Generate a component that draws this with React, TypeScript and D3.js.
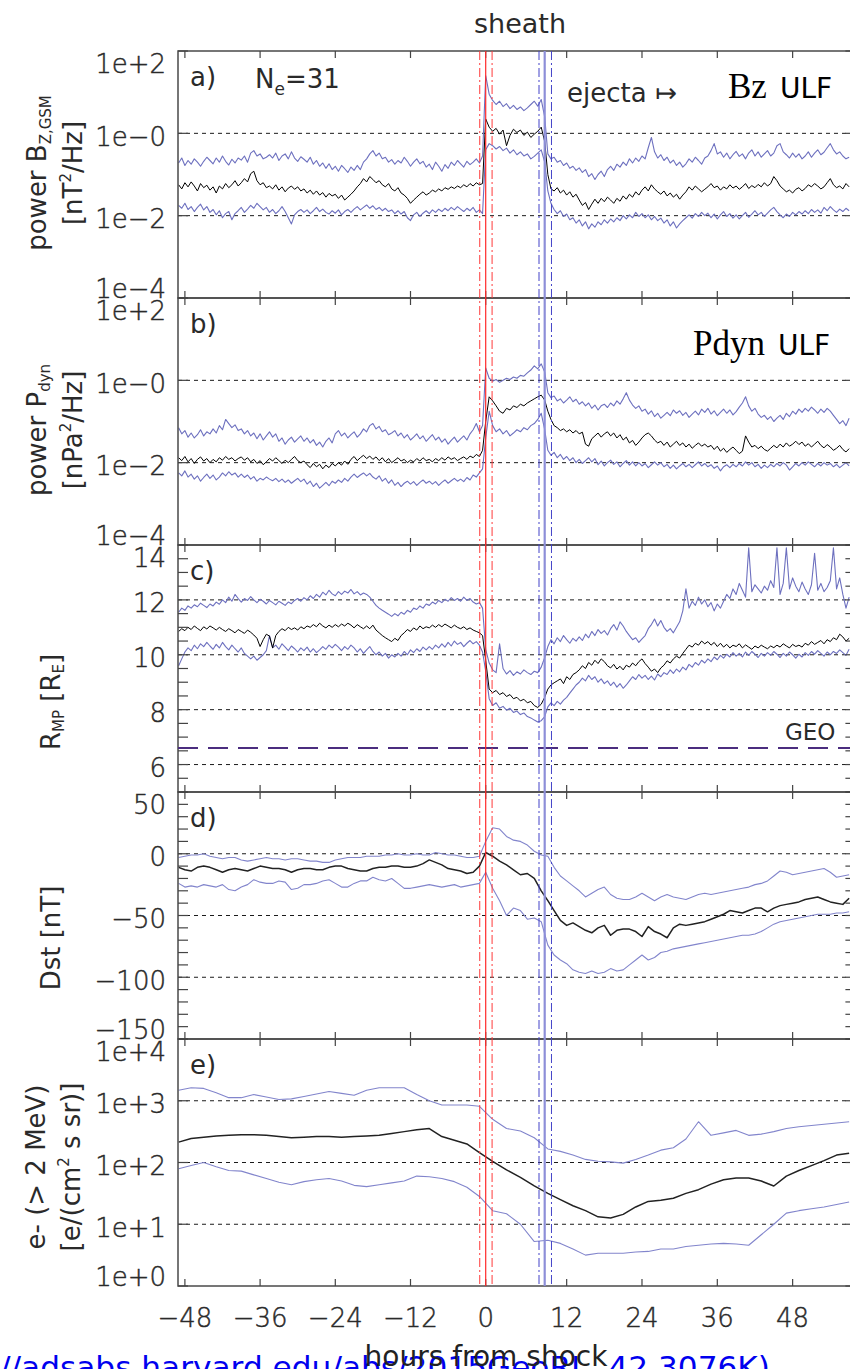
import React from "react";
import * as d3 from "d3";

// ---------- sampling grids (hours from shock; sheath normalised 0..8.5) ----------
const TIME_HALF_HOUR = d3.range(-49, 57.001, 0.5); // panels a, b, c
const TIME_HOUR = d3.range(-49, 57.001, 1); // panel d
const TIME_TWO_HOUR = d3.range(-49, 57.001, 2); // panel e

const X_TICKS = [-48, -36, -24, -12, 0, 12, 24, 36, 48];
const EVENT_TIMES = [-0.95, 0, 0.92, 7.68, 8.5, 9.58];

// ---------- a) Bz ULF power, log10 [nT^2/Hz] ----------
const bzUpperLog = [
  -0.72,-0.60,-0.78,-0.66,-0.75,-0.62,-0.70,-0.80,-0.68,-0.58,
  -0.66,-0.74,-0.60,-0.70,-0.55,-0.68,-0.77,-0.63,-0.72,-0.60,
  -0.65,-0.55,-0.70,-0.48,-0.42,-0.55,-0.50,-0.62,-0.58,-0.52,
  -0.60,-0.48,-0.66,-0.55,-0.50,-0.62,-0.45,-0.60,-0.68,-0.57,
  -0.63,-0.70,-0.58,-0.75,-0.66,-0.80,-0.72,-0.85,-0.74,-0.88,
  -0.80,-0.92,-0.78,-0.86,-0.95,-0.82,-0.90,-0.78,-0.88,-0.70,
  -0.62,-0.50,-0.42,-0.55,-0.48,-0.62,-0.58,-0.70,-0.64,-0.75,
  -0.66,-0.72,-0.58,-0.68,-0.80,-0.70,-0.62,-0.74,-0.68,-0.82,
  -0.75,-0.88,-0.70,-0.80,-0.92,-0.76,-0.85,-0.70,-0.78,-0.66,
  -0.74,-0.82,-0.68,-0.76,-0.70,-0.62,-0.72,-0.55,
  1.40,
  0.95,0.80,0.70,0.78,0.65,0.72,0.60,0.68,0.58,0.64,0.55,0.62,0.70,0.78,0.66,0.82,0.40,
  -0.50,-0.62,-0.58,-0.70,-0.66,-0.78,-0.72,-0.85,-0.80,-0.90,
  -0.84,-0.95,-0.88,-1.05,-0.98,-1.12,-1.00,-0.92,-1.05,-0.88,
  -0.80,-0.90,-0.75,-0.82,-0.70,-0.78,-0.62,-0.72,-0.60,-0.68,
  -0.55,-0.62,-0.35,-0.10,-0.45,-0.60,-0.52,-0.66,-0.58,-0.72,
  -0.65,-0.78,-0.70,-0.82,-0.74,-0.62,-0.70,-0.58,-0.66,-0.75,
  -0.60,-0.55,-0.42,-0.25,-0.50,-0.45,-0.58,-0.48,-0.62,-0.52,
  -0.44,-0.56,-0.50,-0.62,-0.48,-0.40,-0.55,-0.45,-0.58,-0.50,
  -0.42,-0.55,-0.48,-0.30,-0.25,-0.45,-0.52,-0.60,-0.48,-0.58,
  -0.50,-0.62,-0.55,-0.45,-0.58,-0.48,-0.40,-0.52,-0.46,-0.35,
  -0.25,-0.40,-0.50,-0.45,-0.55,-0.62,-0.58,
];
const bzMedianLog = [
  -1.25,-1.35,-1.20,-1.30,-1.18,-1.28,-1.40,-1.22,-1.32,-1.26,
  -1.38,-1.30,-1.45,-1.28,-1.35,-1.22,-1.32,-1.25,-1.15,-1.28,
  -1.20,-1.10,-1.18,-0.98,-0.92,-1.15,-1.25,-1.20,-1.32,-1.28,
  -1.35,-1.25,-1.38,-1.30,-1.42,-1.33,-1.28,-1.36,-1.30,-1.40,
  -1.35,-1.45,-1.38,-1.48,-1.40,-1.50,-1.44,-1.55,-1.46,-1.52,
  -1.48,-1.58,-1.50,-1.62,-1.55,-1.48,-1.40,-1.30,-1.22,-1.10,
  -1.18,-1.05,-1.12,-1.20,-1.15,-1.25,-1.30,-1.22,-1.35,-1.40,
  -1.32,-1.45,-1.50,-1.58,-1.70,-1.62,-1.55,-1.48,-1.42,-1.50,
  -1.45,-1.38,-1.42,-1.35,-1.40,-1.32,-1.36,-1.30,-1.34,-1.28,
  -1.32,-1.25,-1.30,-1.22,-1.28,-1.20,-1.25,-1.22,
  0.35,
  0.15,0.05,0.12,-0.02,0.08,-0.30,-0.05,0.10,0.02,0.08,-0.05,0.03,-0.10,-0.02,0.05,0.15,-0.20,
  -1.00,-1.35,-1.40,-1.32,-1.45,-1.38,-1.50,-1.42,-1.55,-1.48,
  -1.62,-1.75,-1.68,-1.85,-1.72,-1.60,-1.70,-1.58,-1.66,-1.55,
  -1.62,-1.70,-1.58,-1.65,-1.52,-1.60,-1.48,-1.55,-1.42,-1.50,
  -1.38,-1.30,-1.40,-1.25,-1.35,-1.42,-1.48,-1.40,-1.52,-1.45,
  -1.55,-1.48,-1.60,-1.50,-1.42,-1.30,-1.38,-1.28,-1.35,-1.42,
  -1.36,-1.30,-1.22,-1.32,-1.28,-1.38,-1.30,-1.35,-1.25,-1.33,
  -1.28,-1.36,-1.30,-1.22,-1.34,-1.27,-1.32,-1.24,-1.30,-1.20,
  -1.28,-1.22,-1.05,-1.15,-1.28,-1.35,-1.42,-1.38,-1.45,-1.36,
  -1.32,-1.40,-1.34,-1.25,-1.30,-1.22,-1.28,-1.35,-1.30,-1.20,
  -1.10,-1.25,-1.32,-1.28,-1.35,-1.22,-1.30,
];
const bzLowerLog = [
  -1.75,-1.82,-1.70,-1.85,-1.78,-1.90,-1.80,-1.72,-1.86,-1.78,
  -1.92,-1.85,-1.98,-1.88,-2.05,-1.95,-1.90,-2.10,-1.95,-1.88,
  -1.80,-1.92,-1.84,-1.75,-1.82,-1.70,-1.78,-1.86,-1.80,-1.92,
  -1.85,-1.95,-1.88,-1.78,-1.90,-2.05,-2.20,-1.98,-1.90,-1.85,
  -1.92,-1.86,-1.95,-1.88,-1.80,-1.90,-1.84,-1.92,-1.96,-1.88,
  -1.94,-1.86,-1.98,-1.90,-1.85,-1.92,-1.84,-1.78,-1.86,-1.80,
  -1.74,-1.82,-1.76,-1.85,-1.80,-1.88,-1.82,-1.90,-1.86,-1.95,
  -1.88,-1.96,-1.90,-2.05,-2.12,-1.98,-1.92,-2.02,-1.94,-1.88,
  -1.95,-1.86,-1.92,-1.84,-1.90,-1.82,-1.88,-1.80,-1.86,-1.78,
  -1.84,-1.90,-1.82,-1.88,-1.80,-1.92,-1.86,-1.95,
  -0.40,
  -0.25,-0.30,-0.38,-0.32,-0.42,-0.36,-0.48,-0.40,-0.52,-0.45,-0.55,-0.50,-0.62,-0.56,-0.48,-0.40,-0.70,
  -1.40,-1.70,-1.85,-1.95,-1.88,-2.02,-1.96,-2.10,-2.05,-2.18,
  -2.10,-2.25,-2.15,-2.32,-2.20,-2.28,-2.15,-2.22,-2.10,-2.18,
  -2.08,-2.15,-2.05,-2.12,-2.00,-2.08,-1.98,-2.05,-1.92,-2.02,
  -1.95,-2.05,-1.98,-2.10,-2.02,-2.12,-2.06,-2.18,-2.10,-2.25,
  -2.15,-2.30,-2.20,-2.12,-2.05,-1.98,-2.06,-1.95,-2.02,-1.92,
  -2.00,-1.94,-2.05,-1.96,-2.08,-1.98,-1.90,-2.02,-1.95,-2.06,
  -1.98,-2.08,-2.00,-1.92,-2.04,-1.96,-1.88,-1.98,-1.92,-2.02,
  -1.94,-1.86,-1.80,-1.90,-1.98,-2.05,-1.96,-2.02,-1.92,-1.98,
  -1.90,-1.96,-1.88,-1.95,-1.85,-1.92,-1.86,-1.94,-1.80,-1.88,
  -1.78,-1.86,-1.92,-1.84,-1.90,-1.82,-1.88,
];

// ---------- b) Pdyn ULF power, log10 [nPa^2/Hz] ----------
const pdynUpperLog = [
  -1.15,-1.30,-1.22,-1.38,-1.28,-1.40,-1.32,-1.20,-1.35,-1.25,
  -1.30,-1.18,-1.28,-1.10,-1.20,-0.95,-1.05,-1.15,-1.08,-1.22,
  -1.18,-1.30,-1.22,-1.35,-1.28,-1.42,-1.30,-1.45,-1.35,-1.25,
  -1.38,-1.30,-1.48,-1.40,-1.55,-1.45,-1.38,-1.50,-1.42,-1.35,
  -1.48,-1.40,-1.52,-1.44,-1.58,-1.50,-1.62,-1.48,-1.40,-1.52,
  -1.30,-1.22,-1.35,-1.28,-1.40,-1.32,-1.25,-1.38,-1.30,-1.18,
  -1.25,-1.10,-1.05,-1.18,-1.12,-1.25,-1.20,-1.32,-1.28,-1.22,
  -1.35,-1.28,-1.40,-1.32,-1.45,-1.38,-1.30,-1.42,-1.35,-1.48,
  -1.40,-1.32,-1.45,-1.38,-1.50,-1.42,-1.55,-1.46,-1.38,-1.50,
  -1.42,-1.35,-1.45,-1.30,-1.20,-1.05,-1.25,-1.10,
  0.30,
  0.05,-0.02,0.02,-0.05,0.00,0.05,0.02,0.08,0.05,0.12,0.10,0.18,0.25,0.35,0.28,0.40,0.20,
  -0.30,-0.42,-0.38,-0.50,-0.45,-0.55,-0.48,-0.40,-0.52,-0.46,
  -0.58,-0.52,-0.62,-0.55,-0.68,-0.60,-0.72,-0.62,-0.58,-0.66,
  -0.55,-0.62,-0.50,-0.58,-0.45,-0.30,-0.48,-0.60,-0.68,-0.62,
  -0.75,-0.70,-0.82,-0.74,-0.88,-0.80,-0.92,-0.85,-0.78,-0.86,
  -0.72,-0.80,-0.74,-0.85,-0.78,-0.90,-0.82,-0.75,-0.84,-0.70,
  -0.78,-0.68,-0.82,-0.74,-0.86,-0.78,-0.70,-0.80,-0.72,-0.84,
  -0.76,-0.65,-0.55,-0.40,-0.62,-0.75,-0.68,-0.82,-0.90,-0.85,
  -0.95,-0.88,-1.00,-0.92,-0.85,-0.95,-0.80,-0.88,-0.75,-0.82,
  -0.70,-0.78,-0.68,-0.75,-0.65,-0.72,-0.80,-0.70,-0.78,-0.68,
  -0.75,-0.85,-0.95,-1.05,-0.98,-1.10,-0.92,
];
const pdynMedianLog = [
  -1.88,-1.95,-1.85,-1.98,-1.90,-2.02,-1.92,-1.86,-1.96,-1.90,
  -2.00,-1.92,-1.98,-1.88,-1.94,-1.85,-1.92,-1.88,-1.96,-1.90,
  -1.86,-1.94,-1.88,-1.98,-1.92,-2.02,-1.95,-2.05,-1.98,-1.90,
  -1.96,-1.88,-1.95,-2.02,-1.94,-2.00,-1.92,-1.85,-1.95,-2.00,
  -1.96,-2.05,-2.12,-2.02,-2.10,-2.04,-2.15,-2.06,-2.12,-2.02,
  -2.08,-2.00,-2.06,-1.96,-2.04,-1.92,-1.85,-1.95,-1.88,-1.82,
  -1.90,-1.84,-1.92,-1.86,-1.95,-1.88,-1.98,-1.90,-2.00,-1.94,
  -1.88,-1.96,-1.92,-2.00,-1.94,-1.98,-1.90,-1.96,-1.88,-1.95,
  -1.92,-1.98,-1.90,-1.95,-1.88,-1.94,-1.86,-1.92,-1.88,-1.95,
  -1.90,-1.86,-1.92,-1.84,-1.88,-1.80,-1.85,-1.70,
  -1.00,
  -0.40,-0.50,-0.62,-0.75,-0.80,-0.68,-0.72,-0.62,-0.66,-0.58,-0.62,-0.55,-0.50,-0.45,-0.40,-0.36,-0.48,
  -0.75,-0.95,-1.10,-1.15,-1.22,-1.18,-1.25,-1.20,-1.28,-1.22,
  -1.30,-1.26,-1.55,-1.60,-1.42,-1.35,-1.28,-1.38,-1.30,-1.25,
  -1.35,-1.28,-1.40,-1.32,-1.45,-1.38,-1.52,-1.46,-1.58,-1.50,
  -1.40,-1.32,-1.28,-1.35,-1.45,-1.52,-1.48,-1.58,-1.50,-1.62,
  -1.55,-1.48,-1.58,-1.52,-1.62,-1.55,-1.65,-1.58,-1.52,-1.60,
  -1.55,-1.62,-1.58,-1.68,-1.60,-1.72,-1.65,-1.75,-1.68,-1.62,
  -1.70,-1.78,-1.72,-1.35,-1.50,-1.62,-1.58,-1.66,-1.60,-1.68,
  -1.72,-1.65,-1.58,-1.64,-1.55,-1.62,-1.52,-1.60,-1.55,-1.48,
  -1.56,-1.50,-1.60,-1.54,-1.62,-1.55,-1.48,-1.58,-1.64,-1.56,
  -1.62,-1.70,-1.65,-1.58,-1.68,-1.74,-1.66,
];
const pdynLowerLog = [
  -2.25,-2.32,-2.20,-2.35,-2.28,-2.40,-2.32,-2.45,-2.36,-2.28,
  -2.38,-2.30,-2.42,-2.35,-2.25,-2.32,-2.22,-2.30,-2.25,-2.35,
  -2.28,-2.36,-2.30,-2.40,-2.34,-2.45,-2.38,-2.42,-2.35,-2.40,
  -2.44,-2.38,-2.46,-2.40,-2.48,-2.42,-2.50,-2.44,-2.38,-2.46,
  -2.40,-2.52,-2.45,-2.58,-2.50,-2.62,-2.55,-2.48,-2.56,-2.45,
  -2.50,-2.42,-2.48,-2.38,-2.45,-2.35,-2.28,-2.36,-2.30,-2.25,
  -2.32,-2.26,-2.35,-2.40,-2.32,-2.45,-2.38,-2.50,-2.42,-2.55,
  -2.48,-2.58,-2.50,-2.45,-2.52,-2.46,-2.55,-2.48,-2.42,-2.50,
  -2.45,-2.52,-2.46,-2.55,-2.48,-2.42,-2.50,-2.44,-2.38,-2.45,
  -2.40,-2.46,-2.36,-2.42,-2.30,-2.35,-2.25,-2.15,
  -1.40,
  -0.75,-1.10,-1.25,-1.18,-1.30,-1.22,-1.35,-1.28,-1.20,-1.25,-1.15,-1.20,-1.10,-1.05,-0.95,-0.80,-1.20,
  -1.70,-1.82,-1.75,-1.88,-1.80,-1.92,-1.85,-1.95,-1.88,-2.00,
  -1.92,-2.02,-1.95,-1.88,-1.98,-1.90,-2.05,-1.96,-2.08,-2.00,
  -1.94,-2.04,-1.98,-2.10,-2.02,-1.95,-2.06,-1.98,-2.08,-2.00,
  -2.08,-2.02,-2.12,-2.05,-1.98,-2.06,-2.00,-2.10,-2.04,-2.14,
  -2.06,-2.15,-2.08,-2.02,-2.10,-2.04,-2.12,-2.05,-1.98,-2.08,
  -2.02,-2.10,-2.05,-2.14,-2.08,-2.20,-2.10,-2.05,-2.12,-2.04,
  -2.10,-2.02,-2.08,-1.98,-2.06,-2.00,-2.10,-2.04,-2.14,-2.06,
  -2.12,-2.04,-2.10,-2.02,-2.08,-2.00,-2.06,-2.18,-2.10,-2.02,
  -2.08,-2.00,-2.06,-1.98,-2.04,-2.10,-2.02,-2.08,-2.00,-2.06,
  -2.02,-2.10,-2.04,-2.12,-2.06,-2.00,-2.08,
];

// ---------- c) magnetopause standoff distance [R_E] ----------
const rmpUpper = [
  11.55,11.70,11.62,11.78,11.70,11.82,11.75,11.88,11.80,11.72,
  11.85,11.78,11.92,11.84,12.00,11.90,12.10,11.95,12.20,12.05,
  11.92,12.05,11.98,12.12,12.00,11.90,12.02,11.95,11.85,11.98,
  11.90,11.82,11.95,11.88,11.80,11.92,11.86,11.98,12.05,11.95,
  12.08,12.00,12.15,12.05,12.20,12.10,12.28,12.18,12.35,12.22,
  12.15,12.30,12.20,12.32,12.25,12.38,12.22,12.30,12.18,12.25,
  12.20,12.10,11.95,11.80,11.70,11.62,11.55,11.48,11.40,11.50,
  11.42,11.55,11.48,11.62,11.55,11.70,11.65,11.78,11.70,11.85,
  11.80,11.92,11.85,11.98,11.90,12.02,11.95,12.08,11.98,12.05,
  11.95,12.10,11.98,12.05,11.92,11.85,11.90,11.70,
  10.20,
  9.70,9.45,9.35,10.40,9.50,9.30,9.42,9.25,9.38,9.30,9.45,9.35,9.28,9.40,9.35,9.55,9.90,
  10.30,10.55,10.40,10.62,10.48,10.70,10.55,10.42,10.60,10.50,
  10.65,10.52,10.75,10.62,10.85,10.70,10.92,10.78,10.88,10.72,
  10.95,11.10,10.90,11.20,11.05,10.85,10.70,10.55,10.62,10.45,
  10.58,10.70,10.95,11.10,11.30,11.05,11.25,11.00,10.85,10.95,
  10.80,11.00,11.20,11.60,12.40,11.70,11.95,11.80,12.10,11.85,
  12.00,11.75,11.90,11.60,11.85,11.70,11.95,12.20,12.05,12.40,
  12.20,12.60,12.35,12.10,13.90,12.30,12.55,12.40,12.25,12.50,
  12.35,12.70,12.45,13.90,12.20,12.60,13.90,12.40,12.80,12.50,
  12.30,12.65,12.40,12.20,12.55,13.70,12.35,12.60,12.30,12.45,
  12.70,13.90,12.40,12.80,12.20,11.70,12.10,
];
const rmpMedian = [
  10.85,10.95,10.88,11.00,10.92,11.05,10.96,10.88,11.02,10.94,
  11.05,10.98,10.90,11.00,10.92,10.85,10.95,10.88,10.80,10.92,
  10.85,10.78,10.90,10.82,10.72,10.60,10.30,10.55,10.75,10.68,
  10.25,10.70,10.85,10.95,10.88,11.00,10.92,10.98,10.90,11.02,
  10.95,11.05,11.00,11.10,11.02,11.15,11.05,10.98,11.08,11.00,
  11.10,11.02,11.12,11.05,11.15,11.08,10.98,11.10,11.02,10.95,
  11.05,10.95,11.08,10.90,10.80,10.70,10.62,10.55,10.48,10.60,
  10.52,10.70,10.80,10.92,10.85,10.98,10.90,11.05,10.95,11.02,
  10.98,11.08,11.00,11.10,11.02,11.12,11.05,10.98,11.08,11.00,
  10.95,11.02,10.92,10.98,10.90,10.85,10.80,10.70,
  9.80,
  8.75,8.62,8.70,8.55,8.62,8.48,8.55,8.40,8.45,8.32,8.38,8.25,8.30,8.15,8.08,8.20,8.45,
  8.75,8.90,8.98,9.05,9.12,8.95,9.20,9.10,9.28,9.35,
  9.45,9.60,9.50,9.72,9.62,9.80,9.68,9.85,9.75,9.60,
  9.52,9.65,9.48,9.58,9.45,9.62,9.55,9.70,9.60,9.75,
  9.85,9.68,9.55,9.40,9.48,9.35,9.52,9.62,9.78,9.70,
  9.85,9.95,9.88,10.05,10.20,10.35,10.28,10.42,10.35,10.50,
  10.40,10.48,10.35,10.45,10.30,10.42,10.28,10.38,10.25,10.35,
  10.30,10.40,10.25,10.36,10.28,10.20,10.32,10.25,10.35,10.28,
  10.22,10.32,10.26,10.35,10.28,10.40,10.32,10.25,10.38,10.30,
  10.35,10.28,10.42,10.35,10.48,10.38,10.45,10.52,10.40,10.55,
  10.48,10.62,10.55,10.75,10.65,10.50,10.60,
];
const rmpLower = [
  9.60,9.85,10.10,10.25,10.15,10.35,10.22,10.40,10.30,10.45,
  10.32,10.20,10.38,10.25,10.45,10.30,10.18,10.35,10.22,10.10,
  10.25,10.05,9.95,9.85,9.95,9.80,9.90,10.00,10.15,10.70,
  10.25,10.35,10.20,10.40,10.28,10.15,10.32,10.22,10.10,10.25,
  10.15,10.28,10.10,10.22,10.08,10.18,10.30,10.20,10.35,10.25,
  10.38,10.28,10.15,10.30,10.20,10.35,10.25,10.10,10.22,10.05,
  10.18,10.30,10.12,10.00,10.10,9.95,10.05,9.88,10.00,9.92,
  10.05,9.95,10.12,10.00,10.18,10.08,10.22,10.12,10.28,10.18,
  10.30,10.20,10.35,10.25,10.40,10.28,10.45,10.32,10.50,10.38,
  10.45,10.30,10.42,10.52,10.40,10.48,10.35,10.10,
  9.40,
  8.40,8.15,8.25,8.05,8.12,7.98,8.05,7.90,7.95,7.82,7.88,7.75,7.70,7.62,7.55,7.60,7.75,
  8.10,8.25,8.15,8.30,8.20,8.35,8.45,8.60,8.75,8.90,
  9.00,9.15,9.05,9.25,9.10,9.20,9.00,9.12,8.95,9.05,
  8.88,9.00,8.82,8.95,8.78,8.90,9.05,9.20,9.10,9.28,
  9.15,9.25,9.10,9.22,9.08,9.30,9.20,9.35,9.28,9.45,
  9.32,9.48,9.38,9.55,9.45,9.65,9.55,9.72,9.62,9.80,
  9.70,9.85,9.75,9.92,9.82,9.98,9.88,10.02,9.92,10.08,
  9.95,10.05,9.92,10.10,9.98,10.12,10.02,9.90,10.05,9.95,
  10.08,9.98,10.12,10.02,9.90,10.05,9.95,10.10,10.00,9.88,
  10.02,9.92,10.08,9.98,10.12,10.02,10.15,10.05,9.95,10.10,
  10.00,10.12,10.05,10.18,10.08,9.98,10.20,
];
const GEO_RE = 6.6;

// ---------- d) Dst [nT], hourly ----------
const dstUpper = [
  -3,-2,-1,-1,0,-2,-3,-4,-3,-3,
  -5,-6,-5,-4,-3,-4,-4,-5,-4,-4,
  -5,-6,-6,-7,-7,-5,-4,-3,-3,-3,
  -2,-2,-2,-1,-1,0,-1,-1,0,-1,
  -1,1,0,-1,-1,-2,-3,-3,-2,
  10,
  21,20,14,11,10,7,2,-1,
  -2,-11,-18,-22,-26,-30,-35,-32,-29,-27,
  -33,-36,-37,-37,-35,-32,-35,-38,-35,-33,
  -35,-36,-37,-35,-33,-32,-33,-32,-31,-30,
  -29,-28,-27,-25,-24,-22,-18,-14,-15,-17,
  -16,-15,-14,-13,-12,-15,-19,-18,-17,
];
const dstMedian = [
  -11,-13,-14,-11,-10,-11,-13,-15,-13,-12,
  -13,-14,-12,-10,-11,-12,-12,-13,-15,-13,
  -12,-12,-13,-13,-11,-10,-10,-12,-13,-14,
  -14,-12,-11,-11,-10,-10,-11,-11,-10,-8,
  -5,-7,-9,-12,-13,-14,-16,-15,-10,
  1,
  -2,-6,-9,-13,-17,-16,-20,-30,
  -38,-46,-54,-58,-56,-59,-62,-64,-60,-58,
  -66,-62,-61,-61,-63,-67,-59,-63,-65,-68,
  -60,-57,-58,-57,-56,-55,-53,-51,-49,-46,
  -47,-48,-46,-44,-44,-47,-44,-42,-41,-40,
  -39,-37,-36,-35,-37,-39,-40,-41,-36,
];
const dstLower = [
  -24,-27,-26,-27,-25,-26,-27,-25,-29,-30,
  -27,-25,-21,-23,-24,-24,-22,-23,-29,-28,
  -25,-25,-24,-22,-21,-24,-27,-27,-24,-22,
  -22,-19,-21,-22,-20,-24,-28,-28,-27,-26,
  -25,-26,-27,-26,-25,-27,-26,-25,-24,
  -15,
  -28,-38,-50,-44,-46,-53,-52,-55,
  -74,-82,-86,-89,-94,-96,-97,-95,-97,-96,
  -93,-95,-94,-90,-86,-82,-86,-84,-80,-79,
  -77,-76,-75,-74,-73,-72,-71,-70,-69,-68,
  -67,-66,-66,-65,-63,-60,-57,-55,-54,-53,
  -52,-51,-50,-49,-49,-49,-48,-48,-47,
];

// ---------- e) >2 MeV electron flux, log10 [e/(cm^2 s sr)], 2-hourly ----------
const fluxUpperLog = [
  3.17,3.21,3.20,3.13,3.05,3.05,3.10,3.06,3.02,3.03,
  3.07,3.11,3.15,3.12,3.09,3.17,3.21,3.21,3.21,3.10,
  3.00,2.93,2.93,2.93,2.91,2.70,2.55,2.51,2.40,2.22,
  2.18,2.12,2.05,2.02,2.01,1.99,2.05,2.12,2.20,2.24,
  2.38,2.66,2.44,2.48,2.52,2.44,2.46,2.50,2.55,2.58,
  2.60,2.62,2.64,2.66,
];
const fluxMedianLog = [
  2.33,2.39,2.41,2.43,2.44,2.45,2.45,2.44,2.42,2.40,
  2.41,2.42,2.42,2.41,2.42,2.43,2.44,2.47,2.50,2.53,
  2.55,2.42,2.36,2.30,2.16,2.02,1.88,1.76,1.62,1.50,
  1.40,1.30,1.22,1.12,1.10,1.16,1.28,1.37,1.39,1.42,
  1.50,1.56,1.65,1.72,1.75,1.75,1.70,1.62,1.78,1.87,
  1.95,2.03,2.12,2.15,
];
const fluxLowerLog = [
  1.90,1.95,2.00,1.93,1.87,1.86,1.80,1.74,1.68,1.64,
  1.69,1.72,1.74,1.70,1.63,1.61,1.64,1.67,1.70,1.78,
  1.77,1.74,1.69,1.60,1.45,1.22,1.17,1.00,0.72,0.74,
  0.69,0.60,0.50,0.53,0.53,0.53,0.55,0.56,0.60,0.60,
  0.64,0.66,0.68,0.69,0.68,0.66,0.83,1.00,1.18,1.22,
  1.25,1.28,1.32,1.36,
];

// ---------- layout ----------
const W = 850;
const H = 1369;
const LEFT = 178;
const RIGHT = 855.4;
const TOP = 51;
const PH = 247;
const FONT = "'DejaVu Sans', 'Liberation Sans', sans-serif";
const TXT = "#2a2a2a";
const BLUE = "#6d70bf";

const x = d3
  .scaleLinear()
  .domain([-49.1, 0, 8.5, 58])
  .range([LEFT, 485.7, 544.7, RIGHT]);

type Series = { t: number[]; v: number[]; log: boolean; color: string; w: number };
type Panel = {
  letter: string;
  y: any;
  labels: { v: number; s: string }[];
  grid: number[];
  minor: number[];
  series: Series[];
};

function topOf(i: number) {
  return TOP + i * PH;
}

function buildPanels(): Panel[] {
  const yA = d3.scaleLog().domain([1e-4, 1e2]).range([topOf(1), topOf(0)]);
  const yB = d3.scaleLog().domain([1e-4, 1e2]).range([topOf(2), topOf(1)]);
  const yC = d3.scaleLinear().domain([5, 14]).range([topOf(3), topOf(2)]);
  const yD = d3.scaleLinear().domain([-150, 50]).range([topOf(4), topOf(3)]);
  const yE = d3.scaleLog().domain([1, 1e4]).range([topOf(5), topOf(4)]);
  const powLabels = [
    { v: 1e2, s: "1e+2" },
    { v: 1, s: "1e\u22120" },
    { v: 1e-2, s: "1e\u22122" },
    { v: 1e-4, s: "1e\u22124" },
  ];
  return [
    {
      letter: "a)",
      y: yA,
      labels: powLabels,
      grid: [1, 1e-2],
      minor: [1e2, 1, 1e-2, 1e-4],
      series: [
        { t: TIME_HALF_HOUR, v: bzUpperLog, log: true, color: BLUE, w: 1.1 },
        { t: TIME_HALF_HOUR, v: bzLowerLog, log: true, color: BLUE, w: 1.1 },
        { t: TIME_HALF_HOUR, v: bzMedianLog, log: true, color: "#000", w: 1 },
      ],
    },
    {
      letter: "b)",
      y: yB,
      labels: powLabels,
      grid: [1, 1e-2],
      minor: [1e2, 1, 1e-2, 1e-4],
      series: [
        { t: TIME_HALF_HOUR, v: pdynUpperLog, log: true, color: BLUE, w: 1.1 },
        { t: TIME_HALF_HOUR, v: pdynLowerLog, log: true, color: BLUE, w: 1.1 },
        { t: TIME_HALF_HOUR, v: pdynMedianLog, log: true, color: "#000", w: 1 },
      ],
    },
    {
      letter: "c)",
      y: yC,
      labels: [6, 8, 10, 12, 14].map((v) => ({ v, s: String(v) })),
      grid: [6, 8, 10, 12],
      minor: d3.range(5, 14.001, 0.5),
      series: [
        { t: TIME_HALF_HOUR, v: rmpUpper, log: false, color: BLUE, w: 1.1 },
        { t: TIME_HALF_HOUR, v: rmpLower, log: false, color: BLUE, w: 1.1 },
        { t: TIME_HALF_HOUR, v: rmpMedian, log: false, color: "#000", w: 1 },
      ],
    },
    {
      letter: "d)",
      y: yD,
      labels: [50, 0, -50, -100, -150].map((v) => ({
        v,
        s: v < 0 ? "\u2212" + Math.abs(v) : String(v),
      })),
      grid: [0, -50, -100],
      minor: d3.range(-150, 50.001, 10),
      series: [
        { t: TIME_HOUR, v: dstUpper, log: false, color: "#8285cc", w: 1.1 },
        { t: TIME_HOUR, v: dstLower, log: false, color: "#8285cc", w: 1.1 },
        { t: TIME_HOUR, v: dstMedian, log: false, color: "#222", w: 1.5 },
      ],
    },
    {
      letter: "e)",
      y: yE,
      labels: [
        { v: 1e4, s: "1e+4" },
        { v: 1e3, s: "1e+3" },
        { v: 1e2, s: "1e+2" },
        { v: 1e1, s: "1e+1" },
        { v: 1, s: "1e+0" },
      ],
      grid: [1e3, 1e2, 1e1],
      minor: [1e4, 1e3, 1e2, 1e1, 1],
      series: [
        { t: TIME_TWO_HOUR, v: fluxUpperLog, log: true, color: "#8285cc", w: 1.1 },
        { t: TIME_TWO_HOUR, v: fluxLowerLog, log: true, color: "#8285cc", w: 1.1 },
        { t: TIME_TWO_HOUR, v: fluxMedianLog, log: true, color: "#222", w: 1.5 },
      ],
    },
  ];
}

function seriesPath(s: Series, y: any) {
  const n = Math.min(s.t.length, s.v.length);
  const pts = d3.range(n).map((i) => [s.t[i], s.v[i]] as [number, number]);
  const line = d3
    .line<[number, number]>()
    .x((d) => x(d[0]))
    .y((d) => y(s.log ? Math.pow(10, d[1]) : d[1]));
  return line(pts) || "";
}

// thin, IDL-like tick label style
const tickText = { fontWeight: 200, stroke: TXT, strokeWidth: 0.45 } as const;

export default function App() {
  const panels = buildPanels();
  const eventStyles = [
    { color: "#ff3a3a", dash: "9,3,2,3", w: 1 },
    { color: "#ff2a2a", dash: "", w: 1.2 },
    { color: "#ff3a3a", dash: "9,3,2,3", w: 1 },
    { color: "#4343c8", dash: "9,3,2,3", w: 1 },
    { color: "#8d8fd8", dash: "", w: 2.2 },
    { color: "#4343c8", dash: "9,3,2,3", w: 1 },
  ];
  const yC = panels[2].y;

  return (
    <svg
      width={W}
      height={H}
      viewBox={`0 0 ${W} ${H}`}
      style={{ position: "absolute", left: 0, top: 0, background: "#fff" }}
      fontFamily={FONT}
    >
      <defs>
        {panels.map((p, i) => (
          <clipPath id={`clip${i}`} key={i}>
            <rect x={LEFT} y={topOf(i)} width={RIGHT - LEFT} height={PH} />
          </clipPath>
        ))}
      </defs>
      <rect x={0} y={0} width={W} height={H} fill="#fff" />

      {/* title */}
      <text x={520} y={33} textAnchor="middle" fontSize={27} fill={TXT}>
        sheath
      </text>

      {panels.map((p, i) => {
        const top = topOf(i);
        const bottom = top + PH;
        return (
          <g key={i}>
            {p.grid.map((g) => (
              <line
                key={"g" + g}
                x1={LEFT}
                x2={RIGHT}
                y1={p.y(g)}
                y2={p.y(g)}
                stroke="#000"
                strokeWidth={0.9}
                strokeDasharray="4,4"
              />
            ))}
            <g clipPath={`url(#clip${i})`}>
              {p.series.map((s, k) => (
                <path
                  key={k}
                  d={seriesPath(s, p.y)}
                  fill="none"
                  stroke={s.color}
                  strokeWidth={s.w}
                  strokeLinejoin="round"
                />
              ))}
            </g>
            <rect
              x={LEFT}
              y={top}
              width={RIGHT - LEFT}
              height={PH}
              fill="none"
              stroke="#4a4a4a"
              strokeWidth={1.5}
            />
            {X_TICKS.map((t) => (
              <g key={"xt" + t}>
                <line x1={x(t)} x2={x(t)} y1={top} y2={top + 7} stroke="#444" strokeWidth={1.2} />
                <line x1={x(t)} x2={x(t)} y1={bottom} y2={bottom - 7} stroke="#444" strokeWidth={1.2} />
              </g>
            ))}
            {p.minor.map((m) => (
              <g key={"yt" + m}>
                <line x1={LEFT} x2={LEFT + 10} y1={p.y(m)} y2={p.y(m)} stroke="#444" strokeWidth={1.2} />
                <line x1={RIGHT} x2={RIGHT - 10} y1={p.y(m)} y2={p.y(m)} stroke="#444" strokeWidth={1.2} />
              </g>
            ))}
            {p.labels.map((l) => {
              const py = p.y(l.v);
              let c = py + 3;
              if (Math.abs(py - top) < 1) c = py + 12;
              else if (Math.abs(py - bottom) < 1) c = py - 10;
              return (
                <text
                  key={"yl" + l.s}
                  x={166}
                  y={c + 9.5}
                  textAnchor="end"
                  fontSize={26}
                  fill={TXT}
                  {...tickText}
                >
                  {l.s}
                </text>
              );
            })}
            <text x={190} y={top + 35} fontSize={26} fill={TXT}>
              {p.letter}
            </text>
          </g>
        );
      })}

      {/* GEO line */}
      <line
        x1={LEFT}
        x2={RIGHT}
        y1={yC(GEO_RE)}
        y2={yC(GEO_RE)}
        stroke="#4b2d7f"
        strokeWidth={2}
        strokeDasharray="20,10"
      />
      <text x={785} y={740} fontSize={23} fill={TXT}>
        GEO
      </text>

      {/* event lines */}
      {EVENT_TIMES.map((t, i) => (
        <line
          key={"ev" + i}
          x1={x(t)}
          x2={x(t)}
          y1={TOP}
          y2={topOf(5)}
          stroke={eventStyles[i].color}
          strokeWidth={eventStyles[i].w}
          strokeDasharray={eventStyles[i].dash || undefined}
        />
      ))}

      {/* panel annotations */}
      <text x={255} y={88} fontSize={26} fill={TXT}>
        N
        <tspan fontSize={17} dy={7}>
          e
        </tspan>
        <tspan dy={-7}>=31</tspan>
      </text>
      <text x={567} y={102} fontSize={26} fill={TXT}>
        ejecta {"\u21A6"}
      </text>
      <text x={728} y={98} fontSize={35} fill="#000" fontFamily="'Liberation Serif', serif">
        Bz
      </text>
      <text x={780} y={98} fontSize={28} fill="#000">
        ULF
      </text>
      <text x={693} y={355} fontSize={35} fill="#000" fontFamily="'Liberation Serif', serif">
        Pdyn
      </text>
      <text x={778} y={355} fontSize={28} fill="#000">
        ULF
      </text>

      {/* y-axis titles */}
      <text transform="translate(46,173) rotate(-90)" textAnchor="middle" fontSize={26} fill={TXT}>
        power B
        <tspan fontSize={15} dy={5}>
          Z,GSM
        </tspan>
      </text>
      <text transform="translate(82,173) rotate(-90)" textAnchor="middle" fontSize={26} fill={TXT}>
        [nT
        <tspan fontSize={15} dy={-11}>
          2
        </tspan>
        <tspan dy={11}>/Hz]</tspan>
      </text>
      <text transform="translate(46,430) rotate(-90)" textAnchor="middle" fontSize={26} fill={TXT}>
        power P
        <tspan fontSize={15} dy={4}>
          dyn
        </tspan>
      </text>
      <text transform="translate(82,430) rotate(-90)" textAnchor="middle" fontSize={26} fill={TXT}>
        [nPa
        <tspan fontSize={15} dy={-11}>
          2
        </tspan>
        <tspan dy={11}>/Hz]</tspan>
      </text>
      <text transform="translate(60,702) rotate(-90)" textAnchor="middle" fontSize={26} fill={TXT}>
        R
        <tspan fontSize={15} dy={4}>
          MP
        </tspan>
        <tspan dy={-4}> [R</tspan>
        <tspan fontSize={15} dy={4}>
          E
        </tspan>
        <tspan dy={-4}>]</tspan>
      </text>
      <text transform="translate(60,938) rotate(-90)" textAnchor="middle" fontSize={26} fill={TXT}>
        Dst [nT]
      </text>
      <text transform="translate(45,1167) rotate(-90)" textAnchor="middle" fontSize={26} fill={TXT}>
        e- (&gt; 2 MeV)
      </text>
      <text transform="translate(80,1167) rotate(-90)" textAnchor="middle" fontSize={26} fill={TXT}>
        [e/(cm
        <tspan fontSize={15} dy={-11}>
          2
        </tspan>
        <tspan dy={11}> s sr)]</tspan>
      </text>

      {/* x tick labels */}
      {X_TICKS.map((t) => (
        <text key={"xl" + t} x={x(t)} y={1327} textAnchor="middle" fontSize={26} fill={TXT} {...tickText}>
          {t < 0 ? "\u2212" + Math.abs(t) : String(t)}
        </text>
      ))}

      {/* source url (cut by page edge) */}
      <text
        x={0}
        y={1378}
        fontSize={30}
        fill="#0000ee"
        textLength={770}
        lengthAdjust="spacingAndGlyphs"
      >
        //adsabs.harvard.edu/abs/2015GeoRL..42.3076K)
      </text>
      <text x={486} y={1366} textAnchor="middle" fontSize={28} fill="#222">
        hours from shock
      </text>
    </svg>
  );
}
